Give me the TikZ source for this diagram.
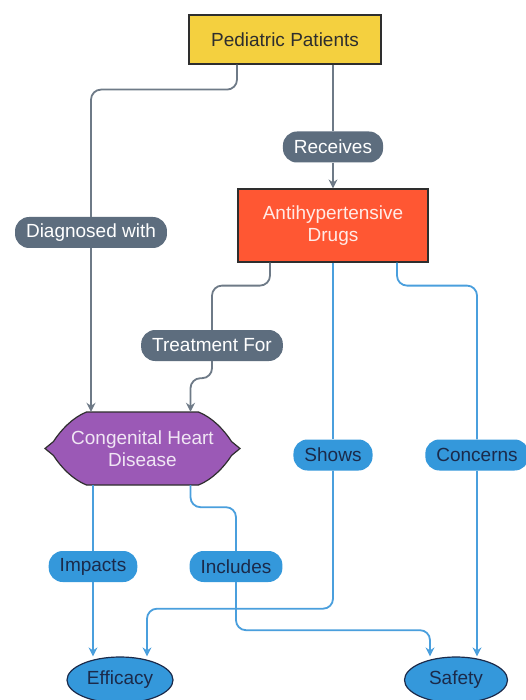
\documentclass[tikz,border=0pt]{standalone}
\usepackage{fontspec}
\setmainfont{Liberation Sans}
\usepackage{tikz}
\usetikzlibrary{arrows.meta,positioning,calc,shapes.geometric}
\definecolor{PatientGold}{HTML}{F4D03F}
\definecolor{DrugRed}{HTML}{FF5733}
\definecolor{HeartPurple}{HTML}{9B59B6}
\definecolor{OutcomeBlue}{HTML}{3498DB}
\definecolor{LinkGray}{HTML}{5D6D7E}
\definecolor{LineGray}{HTML}{6E7A87}
\definecolor{LineBlue}{HTML}{4A9FDD}
\definecolor{NodeInk}{HTML}{2E2E2E}
\definecolor{OutcomeInk}{HTML}{1B2A4A}

\begin{document}
\begin{tikzpicture}[x=1pt,y=-1pt,>={Stealth[length=9pt,width=9pt,inset=3pt]},
  every node/.style={font=\fontsize{19}{22.5}\selectfont},
  box/.style={draw=NodeInk,line width=1.2pt,align=center},
  graytag/.style={fill=LinkGray,text=white,rounded corners=14pt,inner xsep=11pt,minimum height=31pt},
  bluetag/.style={fill=OutcomeBlue,text=OutcomeInk,rounded corners=14pt,inner xsep=11pt,minimum height=31pt},
  graylink/.style={LineGray,line width=1.8pt,rounded corners=10pt},
  bluelink/.style={LineBlue,line width=1.8pt,rounded corners=10pt}]
  \useasboundingbox[fill=white] (0,0) rectangle (525,700);

  % main nodes
  \node[box,fill=PatientGold,text=NodeInk,minimum width=192pt,minimum height=49pt] (pp) at (285,39.5) {Pediatric Patients};
  \node[box,fill=DrugRed,text=white!88!DrugRed,minimum width=190pt,minimum height=73pt] (drug) at (333,225.5) {Antihypertensive\\Drugs};
  \coordinate (chdc) at (142.5,448.5);
  \begin{scope}[shift={(chdc)}]
    \draw[fill=HeartPurple,draw=NodeInk,line width=1.2pt]
      (-56,-36.5) -- (56,-36.5) .. controls (70,-31) and (82,-18) .. (89,-7) -- (97.5,0) -- (89,7)
      .. controls (82,18) and (70,31) .. (56,36.5) -- (-56,36.5)
      .. controls (-70,31) and (-82,18) .. (-89,7) -- (-97.5,0) -- (-89,-7)
      .. controls (-82,-18) and (-70,-31) .. (-56,-36.5) -- cycle;
  \end{scope}
  \node[align=center,text=white!85!HeartPurple,minimum width=195pt,minimum height=73pt] (chd) at (chdc) {Congenital Heart\\Disease};
  \node[ellipse,draw=OutcomeInk,line width=1.2pt,fill=OutcomeBlue,text=OutcomeInk,minimum width=106pt,minimum height=46pt,inner sep=0pt] (eff) at (120,680) {Efficacy};
  \node[ellipse,draw=OutcomeInk,line width=1.2pt,fill=OutcomeBlue,text=OutcomeInk,minimum width=103pt,minimum height=46pt,inner sep=0pt] (safe) at (456,680) {Safety};

  % edge labels
  \node[graytag] (diag) at (91,232.5) {Diagnosed with};
  \node[graytag] (recv) at (333,147) {Receives};
  \node[graytag] (treat) at (212,345.5) {Treatment For};
  \node[bluetag] (shows) at (333,455) {Shows};
  \node[bluetag] (conc) at (477,455) {Concerns};
  \node[bluetag] (imp) at (93,566.5) {Impacts};
  \node[bluetag] (incl) at (236,566.5) {Includes};

  % connectors
  \draw[graylink] ([xshift=-48pt]pp.south) -- ++(0,25) -| (diag.north);
  \draw[graylink,->] (diag.south) -- (diag.south |- chd.north);
  \draw[graylink] ([xshift=48pt]pp.south) -- (recv.north);
  \draw[graylink,->] (recv.south) -- (drug.north);
  \draw[graylink] ([xshift=-63pt]drug.south) -- ++(0,23) -| (treat.north);
  \draw[graylink,->] (treat.south) -- ++(0,17) -| ([xshift=48pt]chd.north);
  \draw[bluelink] (drug.south) -- (shows.north);
  \draw[bluelink,->] (shows.south) -- ++(0,138) -| ([xshift=27pt]eff.north);
  \draw[bluelink] ([xshift=64pt]drug.south) -- ++(0,23) -| (conc.north);
  \draw[bluelink,->] (conc.south) -- (conc.south |- safe.north);
  \draw[bluelink] (chd.south -| imp.north) -- (imp.north);
  \draw[bluelink,->] (imp.south) -- (imp.south |- eff.north);
  \draw[bluelink] ([xshift=48pt]chd.south) -- ++(0,22) -| (incl.north);
  \draw[bluelink,->] (incl.south) -- ++(0,48) -| ([xshift=-26pt]safe.north);
\end{tikzpicture}
\end{document}
